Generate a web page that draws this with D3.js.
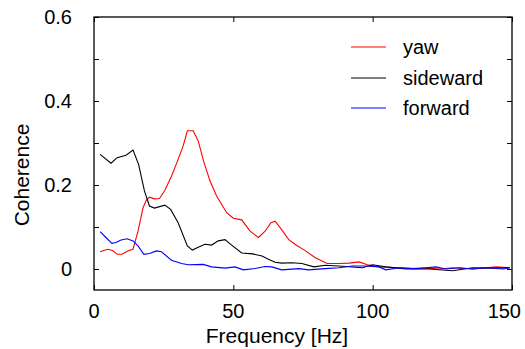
<!DOCTYPE html>
<html><head><meta charset="utf-8">
<script src="https://cdn.jsdelivr.net/npm/d3@7"></script>
<style>body{margin:0;background:#fff}svg text{font-family:"Liberation Sans",Arial,sans-serif;fill:#000}</style>
</head><body><svg id="c" width="525" height="349"></svg>
<script>
const yawF = [2.2,4.9,6.7,8.3,10,12.1,14,15.8,17.6,18.8,19.9,21.7,23.5,25.4,27.8,30.2,32,33.5,35.6,37.4,39.2,41.6,44,47.6,50,53,56,59,61.4,63.5,65,67.4,69.9,72.5,75.5,79.4,83.7,87.9,91.5,95.1,98.1,102.3,109.5,115.5,120.3,123.9,128.7,135.9,144.4,149.2];
const yawV = [0.041,0.047,0.044,0.035,0.035,0.043,0.047,0.090,0.146,0.164,0.171,0.167,0.168,0.187,0.221,0.261,0.293,0.329,0.329,0.305,0.260,0.21,0.174,0.134,0.121,0.117,0.090,0.075,0.090,0.110,0.114,0.093,0.070,0.057,0.045,0.027,0.013,0.013,0.014,0.017,0.010,0.005,0.003,0.001,0.002,0.0,0.003,0.0,0.005,0.003];
const sideF = [2.2,6.1,8.3,11.5,14,16,18.1,19.9,21.7,25.4,27.5,30.2,33.5,35.3,37.4,39.8,42.2,44.6,47,49.4,53,56.9,60.3,62.6,65,67.4,71,74.6,78.9,83,87.9,96.3,99.9,104.7,111.9,120.3,128.7,135.9,143.2,149.2];
const sideV = [0.273,0.252,0.265,0.271,0.283,0.249,0.186,0.150,0.145,0.152,0.142,0.110,0.055,0.045,0.052,0.059,0.057,0.067,0.070,0.057,0.038,0.036,0.031,0.023,0.016,0.014,0.015,0.013,0.005,0.009,0.007,0.003,0.010,0.005,0.0,0.0,-0.004,0.003,0.002,0.003];
const fwdF = [2.2,4.3,6.4,7.9,9.7,11.9,14,15.8,17.9,19.9,22.4,24.2,27.8,31.4,33.8,39.2,42.2,47,50.6,53.6,57.8,61.4,63.8,67.4,73.5,77,83,87.9,92.7,97.5,102.3,104.7,109.5,114.3,119.1,122.7,126.3,131.2,135.9,140.7,146.8,149.2];
const fwdV = [0.089,0.075,0.061,0.063,0.069,0.072,0.067,0.055,0.035,0.037,0.043,0.041,0.021,0.013,0.010,0.011,0.005,0.002,0.005,-0.002,0.001,0.006,0.005,-0.002,0.001,-0.002,0.001,0.003,0.007,0.007,0.005,-0.002,0.003,0.001,0.003,0.005,0,0.003,0,0.003,0,0.003];
const seriesNames = ["yaw","sideward","forward"];
const seriesColors = ["#ff0000","#000000","#0000ff"];
const xTicks = [0,50,100,150];
const yTickVals = [0,0.1,0.2,0.3,0.4,0.5,0.6];
const yTickLabels = [0,0.2,0.4,0.6];

const svg = d3.select("#c");
const L=94,R=512,T=17,B=290;
const x = d3.scaleLinear().domain([0,150]).range([L,R]);
const y = d3.scaleLinear().domain([-0.05,0.6]).range([B,T]);

const series = [[yawF,yawV],[sideF,sideV],[fwdF,fwdV]];
const line = d3.line().x(d=>x(d[0])).y(d=>y(d[1]));
series.forEach((s,i)=>{
  const pts = s[0].map((f,j)=>[f,s[1][j]]);
  svg.append("path").attr("d",line(pts)).attr("fill","none")
    .attr("stroke",seriesColors[i]).attr("stroke-width",1.1);
});

// frame
svg.append("rect").attr("x",L).attr("y",T).attr("width",R-L).attr("height",B-T)
  .attr("fill","none").attr("stroke","#000").attr("stroke-width",1.3);

// axes with inward ticks
const tk=5;
const gb = svg.append("g").attr("transform",`translate(0,${B})`)
  .call(d3.axisBottom(x).tickValues(xTicks).tickSize(-tk).tickPadding(0).tickFormat(()=>""));
const gt = svg.append("g").attr("transform",`translate(0,${T})`)
  .call(d3.axisTop(x).tickValues(xTicks).tickSize(-tk).tickFormat(()=>""));
const gl = svg.append("g").attr("transform",`translate(${L},0)`)
  .call(d3.axisLeft(y).tickValues(yTickVals).tickSize(-tk).tickFormat(()=>""));
const gr = svg.append("g").attr("transform",`translate(${R},0)`)
  .call(d3.axisRight(y).tickValues(yTickVals).tickSize(-tk).tickFormat(()=>""));
[gb,gt,gl,gr].forEach(g=>{g.select(".domain").remove();g.selectAll("line").attr("stroke","#000").attr("stroke-width",1);});

// tick labels (last one kept inside the picture, as in the reference)
svg.append("g").selectAll("text").data(xTicks).join("text")
  .attr("x",(d,i)=>i===xTicks.length-1 ? 521 : x(d)).attr("y",318)
  .attr("text-anchor",(d,i)=>i===xTicks.length-1 ? "end" : "middle")
  .attr("font-size",20).text(d=>d);
svg.append("g").selectAll("text").data(yTickLabels).join("text")
  .attr("x",72).attr("y",d=>y(d)+7).attr("text-anchor","end")
  .attr("font-size",20).text(d=>d);

// axis labels
svg.append("text").attr("x",277).attr("y",343).attr("text-anchor","middle")
  .attr("font-size",21).text("Frequency [Hz]");
svg.append("text").attr("transform","translate(29,175) rotate(-90)").attr("text-anchor","middle")
  .attr("font-size",21).text("Coherence");

// legend
const ly=[47,78,108];
seriesNames.forEach((n,i)=>{
  svg.append("line").attr("x1",351).attr("x2",386).attr("y1",ly[i]).attr("y2",ly[i])
    .attr("stroke",seriesColors[i]).attr("stroke-width",1.1);
  svg.append("text").attr("x",403).attr("y",ly[i]+7).attr("font-size",20).text(n);
});
</script></body></html>
